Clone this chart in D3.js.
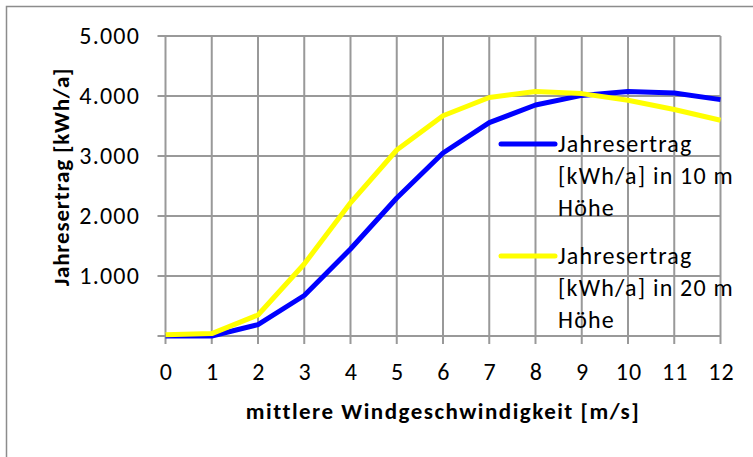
<html>
<head>
<script src="https://cdnjs.cloudflare.com/ajax/libs/d3/7.8.5/d3.min.js"></script>
<style>
body { margin: 0; background: white; }
text { font-family: Carlito, 'Liberation Sans', sans-serif; font-size: 24px; letter-spacing: 1.2px; }
</style>
</head>
<body>
<svg id="canvas" width="753" height="457"></svg>
<script>
// wind speed categories [m/s]
var speeds = [0, 1, 2, 3, 4, 5, 6, 7, 8, 9, 10, 11, 12];
// annual yield [kWh/a]
var yield10m = [0, 0, 190, 675, 1450, 2300, 3050, 3555, 3850, 4010, 4075, 4050, 3940];
var yield20m = [20, 40, 350, 1200, 2220, 3100, 3670, 3975, 4075, 4040, 3930, 3775, 3595];
var yTicks = [0, 1000, 2000, 3000, 4000, 5000];
var seriesColors = ["#0000ff", "#ffff00"];
var legendLines = [["Jahresertrag", "[kWh/a] in 10 m", "Höhe"], ["Jahresertrag", "[kWh/a] in 20 m", "Höhe"]];

var svg = d3.select("#canvas");

// outer frame
svg.append("rect")
    .attr("x", 6.5).attr("y", 6.5)
    .attr("width", 760).attr("height", 470)
    .attr("fill", "none").attr("stroke", "#8c8c8c").attr("stroke-width", 1.5);

var x = d3.scaleLinear().domain([0, 12]).range([165.5, 720.5]);
var y = d3.scaleLinear().domain([0, 5000]).range([336, 36]);

var fmt = function(d) { return d == 0 ? "" : d3.format(",")(d).replace(/,/g, "."); };

// vertical grid
svg.append("g").selectAll("line").data(speeds).enter().append("line")
    .attr("x1", d => x(d)).attr("x2", d => x(d))
    .attr("y1", y(5000)).attr("y2", y(0) + 8)
    .attr("stroke", "#999").attr("stroke-width", 2);

// horizontal grid
svg.append("g").selectAll("line").data(yTicks).enter().append("line")
    .attr("x1", x(0) - 8).attr("x2", x(12))
    .attr("y1", d => y(d)).attr("y2", d => y(d))
    .attr("stroke", "#999").attr("stroke-width", 2);

// y tick labels
svg.append("g").selectAll("text").data(yTicks).enter().append("text")
    .attr("x", 140).attr("y", d => y(d) + 8)
    .attr("text-anchor", "end")
    .text(fmt);

// x tick labels
svg.append("g").selectAll("text").data(speeds).enter().append("text")
    .attr("x", d => x(d) + 1).attr("y", 380)
    .attr("text-anchor", "middle")
    .text(d => d);

// axis titles
svg.append("text")
    .attr("x", 443).attr("y", 419)
    .attr("text-anchor", "middle")
    .style("font-weight", "bold").style("font-size", "23px").style("letter-spacing", "1.5px")
    .text("mittlere Windgeschwindigkeit [m/s]");

svg.append("text")
    .attr("transform", "translate(69,177) rotate(-90)")
    .attr("text-anchor", "middle")
    .style("font-weight", "bold").style("font-size", "23px").style("letter-spacing", "0.8px")
    .text("Jahresertrag [kWh/a]");

// series lines
var line = d3.line().x((d, i) => x(speeds[i])).y(d => y(d));
[yield10m, yield20m].forEach(function(s, i) {
    svg.append("path")
        .datum(s)
        .attr("d", line)
        .attr("fill", "none")
        .attr("stroke", seriesColors[i])
        .attr("stroke-width", 5)
        .attr("stroke-linejoin", "round");
});

// legend
legendLines.forEach(function(lines, i) {
    var top = 144 + i * 112;
    svg.append("line")
        .attr("x1", 501).attr("x2", 555)
        .attr("y1", top).attr("y2", top)
        .attr("stroke", seriesColors[i]).attr("stroke-width", 5).attr("stroke-linecap", "round");
    lines.forEach(function(t, j) {
        svg.append("text")
            .attr("x", 558).attr("y", top + 8 + j * 32)
            .text(t);
    });
});
</script>
</body>
</html>
